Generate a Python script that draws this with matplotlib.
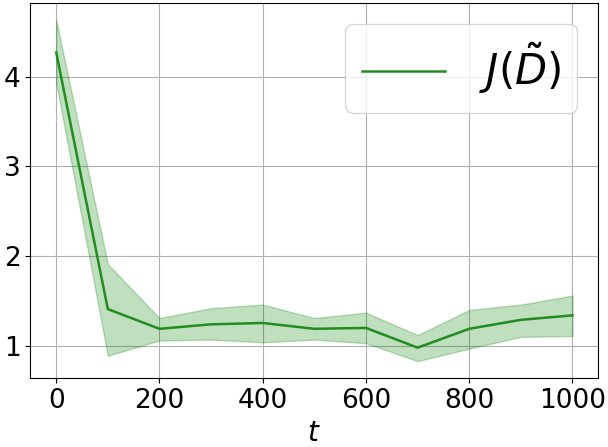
import matplotlib.pyplot as plt

steps = [0, 100, 200, 300, 400, 500, 600, 700, 800, 900, 1000]
mean_j = [4.27, 1.41, 1.19, 1.24, 1.255, 1.19, 1.20, 0.98, 1.19, 1.29, 1.34]
upper_j = [4.63, 1.91, 1.31, 1.42, 1.46, 1.31, 1.37, 1.12, 1.40, 1.46, 1.56]
lower_j = [3.93, 0.89, 1.06, 1.07, 1.04, 1.07, 1.03, 0.83, 0.97, 1.10, 1.11]


def main():
    fig, ax = plt.subplots(figsize=(6.08, 4.47), dpi=100)
    ax.plot(steps, mean_j, color='forestgreen', linewidth=1.8, label=r'$J(\tilde{D})$')
    ax.fill_between(steps, lower_j, upper_j, color='green', alpha=0.25)
    ax.set_xlabel('$t$', fontsize=20, labelpad=4)
    ax.tick_params(labelsize=19)
    ax.set_yticks([1, 2, 3, 4])
    ax.grid(True, color='#b0b0b0')
    ax.set_axisbelow(True)
    ax.legend(loc='upper right', fontsize=30)
    plt.subplots_adjust(left=0.05, right=0.984, top=0.993, bottom=0.154)
    plt.savefig('out.png')


if __name__ == "__main__":
    main()
